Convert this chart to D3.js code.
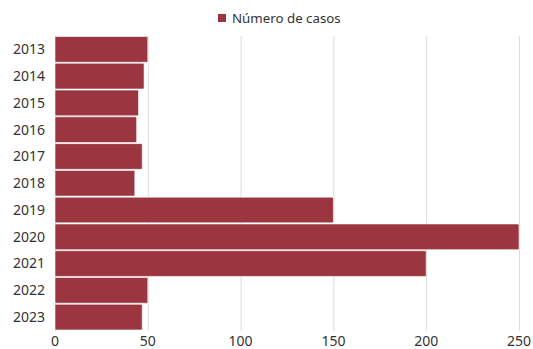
<!DOCTYPE html>
<html><head><meta charset="utf-8">
<script src="https://cdn.jsdelivr.net/npm/d3@7"></script>
<style>body{margin:0;background:#fff}svg{display:block}text{font-family:"Noto Sans","Open Sans",sans-serif}</style>
</head><body><svg id="c" width="533" height="349"></svg>
<script>
const years = ["2013","2014","2015","2016","2017","2018","2019","2020","2021","2022","2023"];
const casos = [50,48,45,44,47,43,150,250,200,50,47];
const xTicks = [0,50,100,150,200,250];
const seriesName = "Número de casos";
const color = "#9b3540";

const svg = d3.select("#c");
const m = {l:55, r:14, t:36, b:18};
const x = d3.scaleLinear().domain([0,250]).range([m.l, 519]);
const y = d3.scaleBand().domain(years).range([m.t, 330.5]).paddingInner(0.04).paddingOuter(0.02);

// grid
svg.append("g").selectAll("line").data(xTicks).join("line")
  .attr("x1",d=>x(d)+0.5).attr("x2",d=>x(d)+0.5)
  .attr("y1",m.t).attr("y2",331)
  .attr("stroke","#dcdcdc").attr("stroke-width",1);

// bars
svg.append("g").selectAll("rect").data(years).join("rect")
  .attr("x",x(0)).attr("y",d=>y(d))
  .attr("width",(d,i)=>x(casos[i])-x(0)).attr("height",y.bandwidth())
  .attr("fill",color).attr("stroke","#fff").attr("stroke-width",0.6).attr("rx",1);

// y labels
svg.append("g").selectAll("text").data(years).join("text")
  .attr("x",45).attr("y",d=>y(d)+y.bandwidth()/2).attr("dy","0.35em")
  .attr("text-anchor","end").attr("font-size",14).attr("fill","#333").text(d=>d);

// x axis labels
svg.append("g").selectAll("text").data(xTicks).join("text")
  .attr("x",d=>x(d)).attr("y",346)
  .attr("text-anchor","middle").attr("font-size",14).attr("fill","#333").text(d=>d);

// legend
const lg = svg.append("g");
lg.append("rect").attr("x",218).attr("y",14).attr("width",8).attr("height",8).attr("fill",color);
lg.append("text").attr("x",232).attr("y",18).attr("dy","0.35em").attr("font-size",13.3).attr("fill","#333").text(seriesName);
</script></body></html>
